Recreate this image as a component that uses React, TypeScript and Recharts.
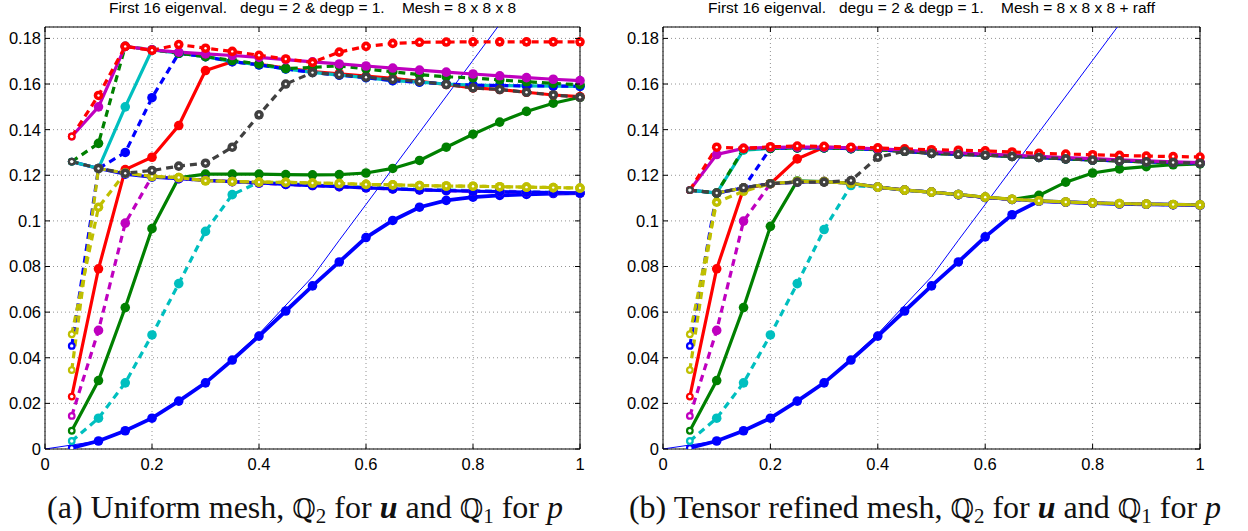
import React from 'react';
import { LineChart, Line, XAxis, YAxis, CartesianGrid, ReferenceArea } from 'recharts';

// sample positions of every eigenvalue curve
const xs = [0.05, 0.1, 0.15, 0.2, 0.25, 0.3, 0.35, 0.4, 0.45, 0.5, 0.55, 0.6, 0.65, 0.7, 0.75, 0.8, 0.85, 0.9, 0.95, 1.0];

const xTicks = [0, 0.2, 0.4, 0.6, 0.8, 1];
const yTicks = [0, 0.02, 0.04, 0.06, 0.08, 0.1, 0.12, 0.14, 0.16, 0.18];

// thin reference curve (same in both panels)
const thinX = [0, 0.1, 0.2, 0.3, 0.4, 0.5, 0.55, 0.6, 0.7, 0.8, 0.86];
const thinY = [0, 0.0035, 0.0135, 0.029, 0.0505, 0.0755, 0.0915, 0.1072, 0.1388, 0.1704, 0.1894];

// (a) uniform mesh
const leftBlueLow = [0.0005, 0.0035, 0.008, 0.0135, 0.021, 0.029, 0.039, 0.0495, 0.0605, 0.0715, 0.082, 0.0927, 0.1002, 0.106, 0.109, 0.1104, 0.1112, 0.1116, 0.112, 0.1122];
const leftCyanDash = [0.0035, 0.0135, 0.029, 0.05, 0.0725, 0.0954, 0.1115, 0.117, 0.1163, 0.1157, 0.1152, 0.1147, 0.1142, 0.1138, 0.1135, 0.1132, 0.113, 0.1127, 0.1125, 0.1123];
const leftGreenSolid = [0.008, 0.03, 0.062, 0.0966, 0.1189, 0.1205, 0.1205, 0.1205, 0.1203, 0.1202, 0.1203, 0.121, 0.123, 0.1265, 0.1323, 0.138, 0.1433, 0.148, 0.1516, 0.1542];
const leftMagDash = [0.0145, 0.052, 0.099, 0.1195, 0.1185, 0.1178, 0.1172, 0.1166, 0.116, 0.1155, 0.115, 0.1145, 0.114, 0.1136, 0.1133, 0.113, 0.1128, 0.1126, 0.1124, 0.1122];
const leftRedSolid = [0.023, 0.079, 0.1225, 0.1279, 0.1418, 0.1659, 0.1698, 0.1686, 0.167, 0.1655, 0.1645, 0.1635, 0.1625, 0.1612, 0.1598, 0.1583, 0.1576, 0.1564, 0.1552, 0.1545];
const leftBlueFlat = [0.126, 0.123, 0.1205, 0.1192, 0.1185, 0.1178, 0.1172, 0.1166, 0.116, 0.1155, 0.115, 0.1145, 0.114, 0.1136, 0.1133, 0.113, 0.1128, 0.1126, 0.1124, 0.1122];
const leftCyanSolid = [0.126, 0.123, 0.15, 0.175, 0.1735, 0.172, 0.1698, 0.1684, 0.1666, 0.1651, 0.1639, 0.1628, 0.1615, 0.1608, 0.16, 0.1595, 0.1593, 0.1592, 0.1591, 0.159];
const leftBlueDash = [0.0452, 0.123, 0.13, 0.154, 0.1735, 0.172, 0.1698, 0.1684, 0.1666, 0.1651, 0.1639, 0.1628, 0.1615, 0.1608, 0.16, 0.1595, 0.1593, 0.1592, 0.1591, 0.159];
const leftYellowB = [0.0346, 0.123, 0.121, 0.1195, 0.119, 0.1176, 0.1173, 0.117, 0.1169, 0.1166, 0.1164, 0.116, 0.1158, 0.1155, 0.1153, 0.1152, 0.115, 0.1148, 0.1146, 0.1144];
const leftYellowA = [0.0503, 0.106, 0.121, 0.1195, 0.119, 0.1176, 0.1173, 0.117, 0.1169, 0.1166, 0.1164, 0.116, 0.1158, 0.1155, 0.1153, 0.1152, 0.115, 0.1148, 0.1146, 0.1144];
const leftGreenDash = [0.126, 0.134, 0.1765, 0.175, 0.1735, 0.172, 0.1703, 0.1688, 0.1668, 0.1673, 0.168, 0.1666, 0.1654, 0.1641, 0.1632, 0.1627, 0.1618, 0.161, 0.1603, 0.1597];
const leftMagSolid = [0.137, 0.15, 0.1765, 0.175, 0.174, 0.1732, 0.1725, 0.1717, 0.1707, 0.1697, 0.1688, 0.1679, 0.167, 0.1661, 0.1652, 0.1644, 0.1636, 0.1628, 0.1621, 0.1615];
const leftRedDash = [0.137, 0.155, 0.1765, 0.1748, 0.1773, 0.1757, 0.1743, 0.1726, 0.171, 0.1695, 0.174, 0.1765, 0.1778, 0.1783, 0.1784, 0.1785, 0.1785, 0.1785, 0.1785, 0.1785];
const leftGrayDash = [0.126, 0.123, 0.1209, 0.1221, 0.124, 0.1253, 0.1323, 0.1465, 0.16, 0.165, 0.1641, 0.163, 0.162, 0.1612, 0.1598, 0.1583, 0.1576, 0.1564, 0.1552, 0.1542];

// (b) tensor refined mesh
const rightBlueLow = [0.0005, 0.0035, 0.008, 0.0135, 0.021, 0.029, 0.039, 0.0495, 0.0605, 0.0715, 0.082, 0.093, 0.1027, 0.1087, 0.1082, 0.1078, 0.1075, 0.1073, 0.1071, 0.1069];
const rightCyanDash = [0.0035, 0.0135, 0.029, 0.05, 0.0725, 0.0962, 0.1155, 0.1148, 0.1135, 0.1126, 0.1115, 0.1103, 0.1094, 0.1087, 0.1082, 0.1078, 0.1075, 0.1073, 0.1071, 0.1069];
const rightGreenSolid = [0.008, 0.03, 0.062, 0.0976, 0.1175, 0.1172, 0.1165, 0.1148, 0.1135, 0.1126, 0.1115, 0.1103, 0.1094, 0.1112, 0.117, 0.121, 0.1228, 0.1238, 0.1246, 0.125];
const rightMagDash = [0.0145, 0.052, 0.0999, 0.1163, 0.117, 0.1172, 0.1165, 0.1148, 0.1135, 0.1126, 0.1115, 0.1103, 0.1094, 0.1087, 0.1082, 0.1078, 0.1075, 0.1073, 0.1071, 0.1069];
const rightRedSolid = [0.023, 0.079, 0.1141, 0.1163, 0.1272, 0.1323, 0.132, 0.1312, 0.1305, 0.1296, 0.1292, 0.1288, 0.1283, 0.1278, 0.1272, 0.1267, 0.1263, 0.1259, 0.1256, 0.1253];
const rightBlueFlat = [0.1135, 0.1122, 0.1145, 0.1163, 0.117, 0.1172, 0.1165, 0.1148, 0.1135, 0.1126, 0.1115, 0.1103, 0.1094, 0.1087, 0.1082, 0.1078, 0.1075, 0.1073, 0.1071, 0.1069];
const rightCyanSolid = [0.1135, 0.1122, 0.131, 0.1318, 0.132, 0.132, 0.1317, 0.1312, 0.1305, 0.1296, 0.1292, 0.1288, 0.1283, 0.1278, 0.1272, 0.1267, 0.1263, 0.1259, 0.1256, 0.1253];
const rightBlueDash = [0.0452, 0.1122, 0.1145, 0.1318, 0.132, 0.132, 0.1317, 0.1312, 0.1305, 0.1296, 0.1292, 0.1288, 0.1283, 0.1278, 0.1272, 0.1267, 0.1263, 0.1259, 0.1256, 0.1253];
const rightYellowB = [0.0346, 0.1122, 0.1145, 0.1163, 0.1172, 0.1172, 0.1165, 0.1148, 0.1135, 0.1126, 0.1116, 0.1104, 0.1095, 0.1088, 0.1083, 0.1079, 0.1076, 0.1074, 0.1072, 0.107];
const rightYellowA = [0.0503, 0.1082, 0.113, 0.1163, 0.1172, 0.1172, 0.1165, 0.1148, 0.1135, 0.1126, 0.1116, 0.1104, 0.1095, 0.1088, 0.1083, 0.1079, 0.1076, 0.1074, 0.1072, 0.107];
const rightGreenDash = [0.1135, 0.1122, 0.1316, 0.1318, 0.132, 0.132, 0.1317, 0.1312, 0.1305, 0.1296, 0.1292, 0.1288, 0.1283, 0.1278, 0.1272, 0.1267, 0.1263, 0.1259, 0.1256, 0.1253];
const rightMagSolid = [0.1135, 0.1291, 0.1318, 0.1322, 0.1323, 0.1323, 0.132, 0.1316, 0.131, 0.1303, 0.1298, 0.1293, 0.1288, 0.1283, 0.1278, 0.1273, 0.1268, 0.1263, 0.1259, 0.1256];
const rightRedDash = [0.1135, 0.1323, 0.1318, 0.1325, 0.1328, 0.1327, 0.1323, 0.132, 0.1316, 0.1312, 0.131, 0.1307, 0.1302, 0.1296, 0.1293, 0.129, 0.1287, 0.1284, 0.1282, 0.128];
const rightGrayDash = [0.1135, 0.1122, 0.1145, 0.1163, 0.117, 0.117, 0.1177, 0.1279, 0.1305, 0.1296, 0.1292, 0.1288, 0.1283, 0.1278, 0.1272, 0.1267, 0.1263, 0.1259, 0.1256, 0.1253];

const BLUE = '#0000ff';
const GREEN = '#008000';
const RED = '#ff0000';
const CYAN = '#00bfbf';
const MAGENTA = '#bf00bf';
const YELLOW = '#bfbf00';
const GRAY = '#404040';

type Series = { key: string; values: number[]; color: string; dashed?: boolean; hollow?: boolean };

const leftSeries: Series[] = [
  { key: 'blueLow', values: leftBlueLow, color: BLUE },
  { key: 'cyanDash', values: leftCyanDash, color: CYAN, dashed: true },
  { key: 'greenSolid', values: leftGreenSolid, color: GREEN },
  { key: 'magDash', values: leftMagDash, color: MAGENTA, dashed: true },
  { key: 'redSolid', values: leftRedSolid, color: RED },
  { key: 'blueFlat', values: leftBlueFlat, color: BLUE },
  { key: 'cyanSolid', values: leftCyanSolid, color: CYAN },
  { key: 'blueDash', values: leftBlueDash, color: BLUE, dashed: true },
  { key: 'yellowB', values: leftYellowB, color: YELLOW, dashed: true, hollow: true },
  { key: 'yellowA', values: leftYellowA, color: YELLOW, dashed: true, hollow: true },
  { key: 'greenDash', values: leftGreenDash, color: GREEN, dashed: true },
  { key: 'magSolid', values: leftMagSolid, color: MAGENTA },
  { key: 'redDash', values: leftRedDash, color: RED, dashed: true, hollow: true },
  { key: 'grayDash', values: leftGrayDash, color: GRAY, dashed: true, hollow: true },
];

const rightSeries: Series[] = [
  { key: 'blueLow', values: rightBlueLow, color: BLUE },
  { key: 'cyanDash', values: rightCyanDash, color: CYAN, dashed: true },
  { key: 'greenSolid', values: rightGreenSolid, color: GREEN },
  { key: 'magDash', values: rightMagDash, color: MAGENTA, dashed: true },
  { key: 'redSolid', values: rightRedSolid, color: RED },
  { key: 'blueFlat', values: rightBlueFlat, color: BLUE },
  { key: 'cyanSolid', values: rightCyanSolid, color: CYAN },
  { key: 'blueDash', values: rightBlueDash, color: BLUE, dashed: true },
  { key: 'yellowB', values: rightYellowB, color: YELLOW, dashed: true, hollow: true },
  { key: 'yellowA', values: rightYellowA, color: YELLOW, dashed: true, hollow: true },
  { key: 'greenDash', values: rightGreenDash, color: GREEN, dashed: true },
  { key: 'magSolid', values: rightMagSolid, color: MAGENTA },
  { key: 'redDash', values: rightRedDash, color: RED, dashed: true, hollow: true },
  { key: 'grayDash', values: rightGrayDash, color: GRAY, dashed: true, hollow: true },
];

const thinData = thinX.map((x, i) => ({ x, thin: thinY[i] }));

const CH = 480;
const Y_AXIS_W = 45;
const X_AXIS_H = 31;
const MARGIN = { top: 27, right: 20, bottom: 0, left: 0 };
const PLOT_H = CH - MARGIN.top - X_AXIS_H;
const Y_MAX = 0.185;
const SANS = '"Liberation Sans", Arial, Helvetica, sans-serif';
const X_TICK_GAP = 9;

const makeDot = (color: string, hollow: boolean, k: string) => (p: any) => {
  const { cx, cy, index } = p;
  if (cx == null || cy == null) return <g key={`${k}-${index}`} />;
  const first = index === 0;
  const open = first || hollow;
  return (
    <g key={`${k}-${index}`}>
      <circle cx={cx} cy={cy} r={first ? 3.9 : 4.8} fill={color} />
      {open && <circle cx={cx} cy={cy} r={first ? 1.7 : 1.2} fill="#fff" />}
    </g>
  );
};

const fmt = (v: number) => (v === 0 ? '0' : String(+v.toFixed(2)));

function Panel({ title, series, left, width }: { title: string; series: Series[]; left: number; width: number }) {
  const plotW = width - Y_AXIS_W - MARGIN.right;
  const rows = xs.map((x, i) => {
    const row: Record<string, number> = { x };
    series.forEach((s) => {
      row[s.key] = s.values[i];
    });
    return row;
  });

  const XTick = (p: any) => {
    const { x, y, payload } = p;
    const axisY = y - X_TICK_GAP;
    return (
      <g>
        <line x1={x} x2={x} y1={axisY} y2={axisY - 5} stroke="#000" />
        <line x1={x} x2={x} y1={axisY - PLOT_H} y2={axisY - PLOT_H + 5} stroke="#000" />
        <text x={x} y={y} dy="0.71em" textAnchor="middle" fontSize={16.5} fontFamily={SANS} fill="#000">
          {fmt(payload.value)}
        </text>
      </g>
    );
  };

  const YTick = (p: any) => {
    const { x, y, payload } = p;
    const axisX = x + 4;
    return (
      <g>
        <line x1={axisX} x2={axisX + 5} y1={y} y2={y} stroke="#000" />
        <line x1={axisX + plotW} x2={axisX + plotW - 5} y1={y} y2={y} stroke="#000" />
        <text x={x} y={y} dy="0.36em" textAnchor="end" fontSize={16.5} fontFamily={SANS} fill="#000">
          {fmt(payload.value)}
        </text>
      </g>
    );
  };

  return (
    <div style={{ position: 'absolute', left, top: 0, width, height: CH }}>
      <div
        style={{
          position: 'absolute',
          left: Y_AXIS_W,
          width: plotW,
          top: 0,
          textAlign: 'center',
          fontFamily: SANS,
          fontSize: 15.5,
          lineHeight: '16px',
          whiteSpace: 'pre',
          color: '#000',
        }}
      >
        {title}
      </div>
      <LineChart width={width} height={CH} data={rows} margin={MARGIN}>
        <CartesianGrid stroke="#777" strokeWidth={0.8} strokeDasharray="1 3" />
        <XAxis
          dataKey="x"
          type="number"
          domain={[0, 1]}
          ticks={xTicks}
          height={X_AXIS_H}
          tickSize={0}
          tickMargin={X_TICK_GAP}
          axisLine={false}
          tick={<XTick />}
          interval={0}
        />
        <YAxis
          type="number"
          domain={[0, Y_MAX]}
          ticks={yTicks}
          width={Y_AXIS_W}
          tickSize={0}
          tickMargin={4}
          axisLine={false}
          tick={<YTick />}
          interval={0}
          allowDataOverflow
        />
        <ReferenceArea x1={0} x2={1} y1={0} y2={Y_MAX} fill="none" stroke="#000" strokeWidth={1} strokeOpacity={1} />
        <Line
          data={thinData}
          dataKey="thin"
          stroke={BLUE}
          strokeWidth={1}
          dot={false}
          activeDot={false}
          isAnimationActive={false}
        />
        {series.map((s) => (
          <Line
            key={s.key}
            dataKey={s.key}
            stroke={s.color}
            strokeWidth={s.key === 'blueLow' ? 3.8 : 3.2}
            strokeDasharray={s.dashed ? '7 5' : undefined}
            dot={makeDot(s.color, !!s.hollow, s.key)}
            activeDot={false}
            isAnimationActive={false}
          />
        ))}
      </LineChart>
    </div>
  );
}

const captionStyle: React.CSSProperties = {
  position: 'absolute',
  top: 488,
  width: 610,
  textAlign: 'center',
  fontFamily: '"Liberation Serif", "Times New Roman", serif',
  fontSize: 32,
  lineHeight: '38px',
  color: '#111',
  whiteSpace: 'nowrap',
};

const Bb = ({ n }: { n: string }) => (
  <span>
    <span style={{ fontFamily: '"DejaVu Serif", serif', fontSize: 27 }}>ℚ</span>
    <sub style={{ fontSize: 21, verticalAlign: '-0.25em', lineHeight: 0 }}>{n}</sub>
  </span>
);

export default function App() {
  return (
    <div style={{ position: 'absolute', left: 0, top: 0, width: 1248, height: 531, background: '#fff', overflow: 'hidden' }}>
      <Panel title={'First 16 eigenval.   degu = 2 & degp = 1.    Mesh = 8 x 8 x 8'} series={leftSeries} left={0} width={600} />
      <Panel title={'First 16 eigenval.   degu = 2 & degp = 1.    Mesh = 8 x 8 x 8 + raff'} series={rightSeries} left={618} width={602} />
      <div style={{ ...captionStyle, left: 0 }}>
        (a) Uniform mesh, <Bb n="2" /> for <b><i>u</i></b> and <Bb n="1" /> for <i>p</i>
      </div>
      <div style={{ ...captionStyle, left: 620 }}>
        (b) Tensor refined mesh, <Bb n="2" /> for <b><i>u</i></b> and <Bb n="1" /> for <i>p</i>
      </div>
    </div>
  );
}
